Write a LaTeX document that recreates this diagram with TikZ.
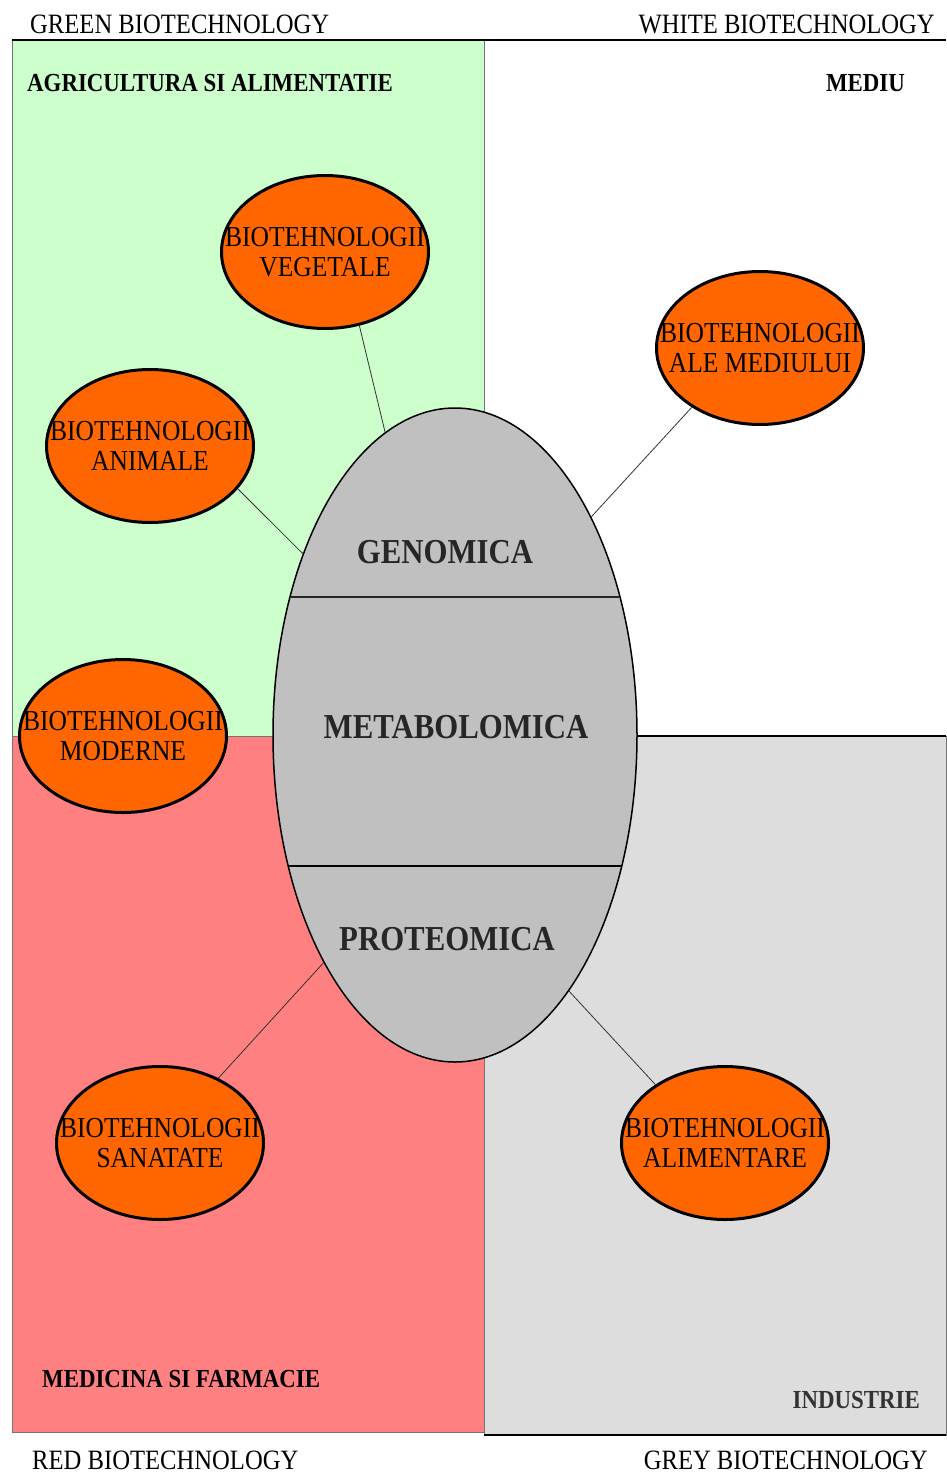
\documentclass[tikz,border=0pt]{standalone}
\usepackage{fontspec}
\setmainfont{Liberation Serif}[FakeStretch=0.88]
\usetikzlibrary{shapes.geometric}
\definecolor{greenbg}{HTML}{CCFFCC}
\definecolor{redbg}{HTML}{FF8080}
\definecolor{greybg}{HTML}{DDDDDD}
\definecolor{coregrey}{HTML}{C0C0C0}
\definecolor{orangefill}{HTML}{FF6600}
\begin{document}
\begin{tikzpicture}[x=1pt,y=-1pt,
  region/.style={draw=black!55, line width=1pt},
  orangebox/.style={ellipse, draw=black, line width=3pt, fill=orangefill,
    minimum width=207pt, minimum height=153pt, inner sep=0pt},
  biotext/.style={font=\fontsize{29}{30}\selectfont, align=center, inner sep=0pt},
  link/.style={draw=black!80, line width=0.8pt},
  regionlabel/.style={font=\fontsize{28}{32}\selectfont, anchor=base west, inner sep=0pt},
  arealabel/.style={font=\bfseries\fontsize{26}{30}\selectfont, anchor=base west, inner sep=0pt},
  coretext/.style={font=\bfseries\fontsize{35}{40}\selectfont, anchor=base, inner sep=0pt, text=black!85}]
\useasboundingbox (0,0) rectangle (946,1475);
% quadrants
\fill[white] (0,0) rectangle (946,1475);
\path[region, fill=greenbg] (12,40) rectangle (484,736);
\path[region, fill=redbg] (12,736) rectangle (484,1432);
\path[region, fill=greybg] (484,736) rectangle (946,1435);
\draw[black, line width=2pt] (636,736) -- (946,736);
\draw[black, line width=2pt] (484,1435) -- (946,1435);
\draw[black, line width=2.5pt] (12,40) -- (946,40);
% labels
\node[regionlabel] (lblgreen) at (30,33) {GREEN BIOTECHNOLOGY};
\node[regionlabel, anchor=base east] (lblwhite) at (935,33) {WHITE BIOTECHNOLOGY};
\node[arealabel] (agri) at (27,91) {AGRICULTURA SI ALIMENTATIE};
\node[arealabel, anchor=base east] (mediu) at (905,91) {MEDIU};
\node[arealabel] (medic) at (42,1387) {MEDICINA SI FARMACIE};
\node[arealabel, anchor=base east, text=black!80] (indu) at (920,1408) {INDUSTRIE};
\node[regionlabel] (lblred) at (32,1469) {RED BIOTECHNOLOGY};
\node[regionlabel, anchor=base east] (lblgrey) at (928,1469) {GREY BIOTECHNOLOGY};
% central ellipse
\node[ellipse, draw=black, line width=1.5pt, fill=coregrey, minimum width=364pt,
  minimum height=654pt, inner sep=0pt] (core) at (455,735) {};
\begin{scope}
  \clip (core.center) ellipse [x radius=181pt, y radius=326pt];
  \draw[black!85, line width=1.3pt] (250,597) -- (660,597);
  \draw[black, line width=1.6pt] (250,866) -- (660,866);
\end{scope}
\node[coretext] (geno) at (445,563) {GENOMICA};
\node[coretext] (meta) at (456,738) {METABOLOMICA};
\node[coretext] (prot) at (447,950) {PROTEOMICA};
% orange ellipses
\node[orangebox, label={[biotext]center:BIOTEHNOLOGII\\VEGETALE}] (veg) at (325,252) {};
\node[orangebox, label={[biotext]center:BIOTEHNOLOGII\\ALE MEDIULUI}] (env) at (760,348) {};
\node[orangebox, label={[biotext]center:BIOTEHNOLOGII\\ANIMALE}] (ani) at (150,446) {};
\node[orangebox, label={[biotext]center:BIOTEHNOLOGII\\MODERNE}] (mod) at (123,736) {};
\node[orangebox, label={[biotext]center:BIOTEHNOLOGII\\SANATATE}] (san) at (160,1143) {};
\node[orangebox, label={[biotext]center:BIOTEHNOLOGII\\ALIMENTARE}] (ali) at (725,1143) {};
% connectors
\draw[link] (veg.-65) -- (core.103);
\draw[link] (env.221) -- (core.58);
\draw[link] (ani.-26) -- (core.130);
\draw[link] (san.48) -- (core.240);
\draw[link] (ali.140) -- (core.-66);
\end{tikzpicture}
\end{document}
